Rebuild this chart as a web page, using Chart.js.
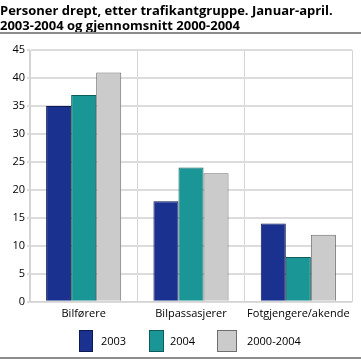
<!DOCTYPE html>
<html lang="no">
<head>
<meta charset="UTF-8">
<title>Personer drept, etter trafikantgruppe</title>
<script src="https://cdn.jsdelivr.net/npm/chart.js"></script>
<style>
  html, body { margin: 0; padding: 0; background: #fff; }
  #wrap { position: relative; width: 361px; height: 360px; }
</style>
</head>
<body>
<div id="wrap"><canvas id="chart" width="361" height="360"></canvas></div>
<script>
const categories = ['Bilførere', 'Bilpassasjerer', 'Fotgjengere/akende'];
const seriesNames = ['2003', '2004', '2000-2004'];
const values2003 = [35, 18, 14];
const values2004 = [37, 24, 8];
const valuesAvg = [41, 23, 12];
const yTicks = [0, 5, 10, 15, 20, 25, 30, 35, 40, 45];
const titleLines = ['Personer drept, etter trafikantgruppe. Januar-april.', '2003-2004 og gjennomsnitt 2000-2004'];

const fontFamily = "'Open Sans', 'Noto Sans', sans-serif";

// grey rules under the title and under the legend
const rules = {
    id: 'rules',
    afterDraw(chart) {
        const c = chart.ctx;
        c.save();
        c.strokeStyle = '#8c8c8c';
        c.lineWidth = 2;
        c.beginPath();
        c.moveTo(0, 33); c.lineTo(361, 33);
        c.moveTo(0, 358); c.lineTo(361, 358);
        c.stroke();
        c.restore();
    }
};

// legend row under the axis, spaced like the original
const legendRow = {
    id: 'legendRow',
    afterDraw(chart) {
        const c = chart.ctx;
        const slots = [{ box: 79, w: 14, text: 101 }, { box: 149, w: 15, text: 170 }, { box: 217, w: 20, text: 247 }];
        c.save();
        c.font = '11px ' + fontFamily;
        c.textBaseline = 'middle';
        chart.data.datasets.forEach((ds, i) => {
            const s = slots[i];
            c.fillStyle = ds.backgroundColor;
            c.fillRect(s.box, 330, s.w, 22);
            c.strokeStyle = ds.borderColor;
            c.lineWidth = 1;
            c.strokeRect(s.box + 0.5, 330.5, s.w - 1, 21);
            c.fillStyle = '#000';
            c.fillText(ds.label, s.text, 342);
        });
        c.restore();
    }
};

new Chart(document.getElementById('chart'), {
    type: 'bar',
    data: {
        labels: categories,
        datasets: [
            { label: seriesNames[0], data: values2003, backgroundColor: '#1a318f', borderColor: '#0d1a50', borderWidth: 1 },
            { label: seriesNames[1], data: values2004, backgroundColor: '#1a9696', borderColor: '#0e5c5c', borderWidth: 1 },
            { label: seriesNames[2], data: valuesAvg, backgroundColor: '#cbcbcb', borderColor: '#6e6e6e', borderWidth: 1 }
        ]
    },
    options: {
        responsive: false,
        animation: false,
        layout: { padding: { left: 0, right: 9, top: 0, bottom: 35 } },
        datasets: { bar: { categoryPercentage: 0.7, barPercentage: 1.0 } },
        plugins: {
            title: {
                display: true,
                text: titleLines,
                align: 'start',
                color: '#000',
                font: { family: fontFamily, size: 13, weight: 'bold', lineHeight: 1.2 },
                padding: { top: 3, bottom: 16 }
            },
            legend: { display: false },
            tooltip: { enabled: false }
        },
        scales: {
            x: {
                grid: { color: '#d4d4d4', lineWidth: 1, drawTicks: false },
                border: { color: '#d4d4d4' },
                ticks: { color: '#000', font: { family: fontFamily, size: 11 }, padding: 5, maxRotation: 0, autoSkip: false }
            },
            y: {
                min: 0,
                max: 45,
                afterBuildTicks(axis) { axis.ticks = yTicks.map(v => ({ value: v })); },
                afterFit(axis) { axis.width = 30; },
                grid: { color: '#dcdcdc', lineWidth: 2, tickLength: 3 },
                border: { color: '#d4d4d4' },
                ticks: { color: '#000', font: { family: fontFamily, size: 11 }, padding: 2 }
            }
        }
    },
    plugins: [rules, legendRow]
});
</script>
</body>
</html>
